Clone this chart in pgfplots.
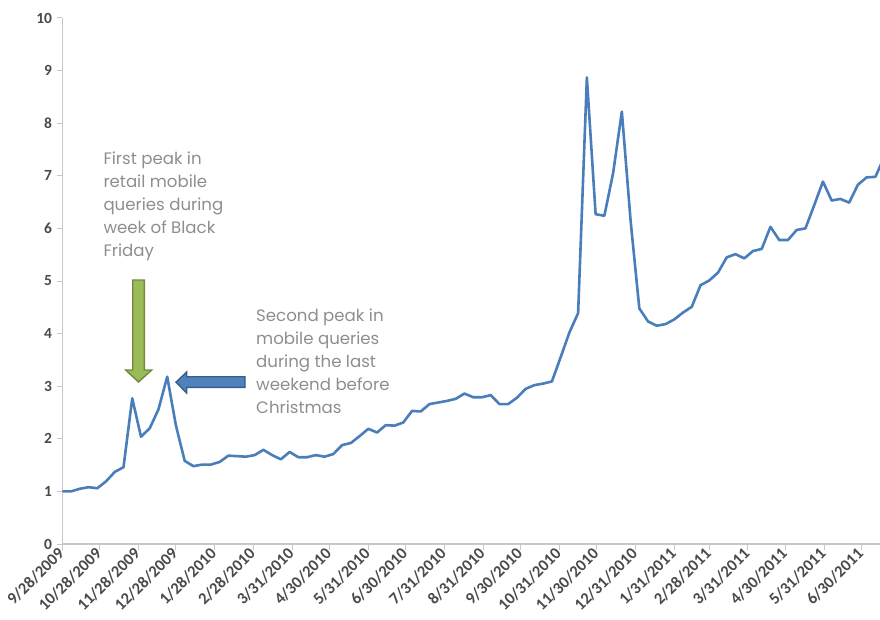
\documentclass[border=0pt]{standalone}
\usepackage{fontspec}
\setmainfont{Carlito}
\newfontfamily\notefont{Poppins}
\usepackage{pgfplots}
\pgfplotsset{compat=1.18}
\usepackage{pgfplotstable}

\definecolor{serieblue}{HTML}{4A7EBB}
\definecolor{axisgray}{HTML}{C8C8C8}
\definecolor{labelgray}{HTML}{4A4A4A}
\definecolor{notegray}{HTML}{8E8E8E}
\definecolor{arrowgreen}{HTML}{9BBB59}
\definecolor{arrowgreenline}{HTML}{71893F}
\definecolor{arrowblue}{HTML}{4F81BD}
\definecolor{arrowblueline}{HTML}{385D8A}

% Weekly retail mobile query index; day = days since 9/28/2009
\pgfplotstableread{
day val
0 1.00
7 1.00
14 1.05
21 1.08
28 1.06
35 1.19
42 1.37
49 1.46
56 2.77
63 2.04
70 2.20
77 2.56
84 3.18
91 2.25
98 1.58
105 1.48
112 1.51
119 1.51
126 1.56
133 1.68
140 1.67
147 1.66
154 1.69
161 1.79
168 1.69
175 1.61
182 1.75
189 1.65
196 1.65
203 1.69
210 1.66
217 1.71
224 1.88
231 1.92
238 2.05
245 2.19
252 2.12
259 2.26
266 2.25
273 2.31
280 2.53
287 2.52
294 2.66
301 2.69
308 2.72
315 2.76
322 2.86
329 2.79
336 2.79
343 2.83
350 2.66
357 2.66
364 2.78
371 2.95
378 3.02
385 3.05
392 3.09
399 3.55
406 4.02
413 4.39
420 8.87
427 6.27
434 6.24
441 7.05
448 8.22
455 6.15
462 4.48
469 4.23
476 4.15
483 4.18
490 4.27
497 4.40
504 4.51
511 4.92
518 5.01
525 5.16
532 5.45
539 5.51
546 5.43
553 5.57
560 5.61
567 6.03
574 5.78
581 5.78
588 5.97
595 6.00
602 6.44
609 6.89
616 6.53
623 6.56
630 6.49
637 6.83
644 6.97
651 6.98
658 7.35
}\queries

\begin{document}
\begin{tikzpicture}
\useasboundingbox (-62.3pt,-75pt) rectangle (817.7pt,544pt);
\begin{axis}[
  at={(0,0)}, anchor=south west,
  scale only axis,
  width=817.7pt, height=526pt,
  xmin=0, xmax=654.7,
  ymin=0, ymax=10,
  axis lines*=left,
  axis line style={draw=axisgray, line width=1.3pt},
  tick pos=left,
  tick align=outside,
  major tick length=5.5pt,
  tick style={draw=axisgray, line width=1pt},
  ytick={0,1,...,10},
  xtick={0,30,61,91,122,153,184,214,245,275,306,337,367,398,428,459,490,518,549,579,610,640},
  xticklabels={9/28/2009,10/28/2009,11/28/2009,12/28/2009,1/28/2010,2/28/2010,3/31/2010,4/30/2010,5/31/2010,6/30/2010,7/31/2010,8/31/2010,9/30/2010,10/31/2010,11/30/2010,12/31/2010,1/31/2011,2/28/2011,3/31/2011,4/30/2011,5/31/2011,6/30/2011},
  /pgf/number format/assume math mode=true,
  ticklabel style={text=labelgray},
  yticklabel style={font=\bfseries\fontsize{15.5}{18}\selectfont, inner sep=4.5pt},
  xticklabel style={font=\bfseries\fontsize{16.5}{19}\selectfont, rotate=45, anchor=east, inner sep=1.5pt},
]
\addplot[serieblue, line width=2.6pt, line join=round] table[x=day, y=val] {\queries};
\end{axis}

% callout arrows
\draw[fill=arrowgreen, draw=arrowgreenline, line width=1.4pt, line join=miter]
  (70.4pt,264pt) -- (82pt,264pt) -- (82pt,174pt) -- (89.4pt,174pt)
  -- (76.2pt,162pt) -- (63.4pt,174pt) -- (70.4pt,174pt) -- cycle;
\draw[fill=arrowblue, draw=arrowblueline, line width=1.4pt, line join=miter]
  (182.7pt,156.7pt) -- (182.7pt,167.3pt) -- (124.4pt,167.3pt) -- (124.4pt,172pt)
  -- (113.7pt,161.8pt) -- (124.4pt,151pt) -- (124.4pt,156.7pt) -- cycle;

% callout text
\begin{scope}[every node/.style={anchor=base west, inner sep=0pt, text=notegray,
    font=\notefont\fontsize{16.6}{19}\selectfont}]
\node at (41pt,379pt) {First peak in};
\node at (41pt,356.1pt) {retail mobile};
\node at (41pt,333.2pt) {queries during};
\node at (41pt,310.3pt) {week of Black};
\node at (41pt,287.4pt) {Friday};
\node at (193.7pt,222.3pt) {Second peak in};
\node at (193.7pt,199.4pt) {mobile queries};
\node at (193.7pt,176.5pt) {during the last};
\node at (193.7pt,153.6pt) {weekend before};
\node at (193.7pt,130.7pt) {Christmas};
\end{scope}
\end{tikzpicture}
\end{document}
